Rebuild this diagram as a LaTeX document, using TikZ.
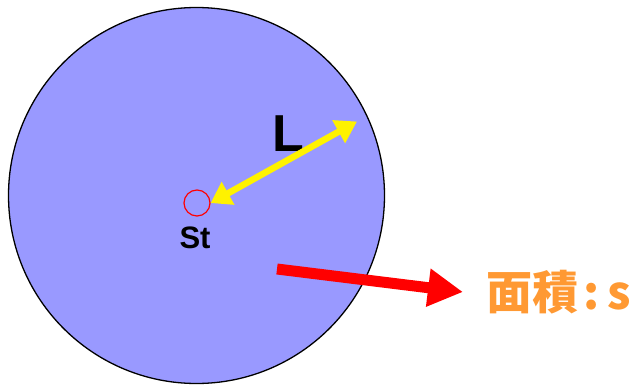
\documentclass[tikz,border=0pt]{standalone}
\usepackage{fontspec}
\setmainfont{Liberation Sans}
\newfontfamily\cjkfont{Noto Sans CJK JP}
\usetikzlibrary{arrows.meta}
\definecolor{disk}{HTML}{9999FF}
\definecolor{lblorange}{HTML}{FF9933}
\tikzset{
  diskstyle/.style={circle, draw=black, line width=1.3pt, fill=disk, minimum size=376pt, inner sep=0pt},
  stcircle/.style={circle, draw=red, line width=1.2pt, minimum size=26pt, inner sep=0pt},
  yarrow/.style={draw=yellow, line width=6.5pt, {Triangle[length=20pt,width=25pt]}-{Triangle[length=21pt,width=25pt]}, fill=yellow},
  rarrow/.style={draw=red, line width=11pt, -{Triangle[length=35pt,width=36pt]}, fill=red},
}
\begin{document}
\begin{tikzpicture}[x=1pt,y=-1pt]
\useasboundingbox (0,0) rectangle (630,386);
\node[diskstyle] (disk) at (196.5,195.5) {};
\node[stcircle] (st) at (197,203) {};
\node[font=\bfseries\fontsize{31}{31}\selectfont, anchor=base] (stlbl) at (195,248) {St};
\node[font=\bfseries\fontsize{52}{52}\selectfont, anchor=base] (llbl) at (288,151) {L};
\coordinate (yend) at (357,121.5);
\draw[yarrow] (st.east) -- (yend);
\node[font=\cjkfont\bfseries\fontsize{46}{46}\selectfont, text=lblorange, anchor=west, inner sep=0pt] (area) at (486,292) {面積\kern5pt:\kern8pt s};
\coordinate (rstart) at (277,269);
\draw[rarrow] (rstart) -- ([xshift=-23pt]area.west);
\end{tikzpicture}
\end{document}
